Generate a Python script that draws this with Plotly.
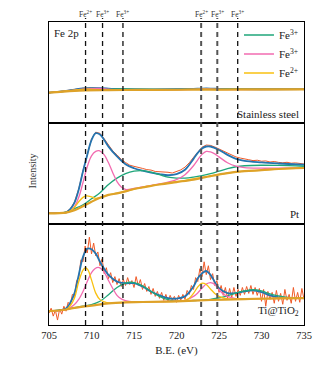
import numpy as np
import plotly.graph_objects as go
from plotly.subplots import make_subplots

# ---------------- data ----------------
# Reference lines (binding energies, eV) and their labels
fe_lines = [709.3, 711.3, 713.7, 722.9, 724.8, 727.2]
fe_labels = ["Fe<sup>2+</sup>", "Fe<sup>3+</sup>", "Fe<sup>3+</sup>",
             "Fe<sup>2+</sup>", "Fe<sup>3+</sup>", "Fe<sup>3+</sup>"]
fe_heavy = [False, False, False, True, True, False]

x_ticks = [705, 710, 715, 720, 725, 730, 735]

# ---- Stainless steel panel (arbitrary intensity units) ----
ss_raw_x = list(range(705, 736))
ss_raw_y = [30.6, 31.6, 32.4, 33.9, 35.2, 35.6, 35.1, 34.9, 34.3, 34.1, 33.9, 34.2, 33.9, 34.1, 34.3,
            34.1, 34.5, 34.9, 35.2, 34.9, 34.5, 34.4, 34.1, 34.3, 34.2, 34.4, 34.1, 34.3, 34.2, 34.4, 34.3]
ss_env_x = [705, 706, 707, 708, 709, 710, 711, 712, 713, 715, 720, 722, 723, 724, 725, 727, 730, 735]
ss_env_y = [30.7, 31.5, 32.5, 33.8, 35, 35.3, 35.3, 34.8, 34.2, 34, 34.2, 34.6, 34.9, 34.9, 34.6, 34.3, 34.2, 34.3]
ss_pink_x = [705, 707, 708, 709, 710, 711, 712, 713, 715, 720, 722, 723.5, 725, 727, 735]
ss_pink_y = [30.7, 32.3, 33.3, 34.2, 34.8, 35, 34.2, 33.6, 33.5, 33.7, 34, 34.5, 34, 33.8, 34]
ss_green_x = [705, 708, 710, 712, 714, 716, 720, 724, 728, 735]
ss_green_y = [30.7, 32.8, 33.8, 34.4, 34.5, 34.2, 34, 34.2, 34.3, 34.3]
ss_yellow_x = [705, 708, 709.3, 710, 712, 715, 720, 722.9, 725, 735]
ss_yellow_y = [30.7, 33.2, 34.3, 34, 33.6, 33.5, 33.7, 34.2, 33.8, 34]
ss_bg_x = [705, 708, 712, 716, 720, 725, 730, 735]
ss_bg_y = [30.7, 32.6, 33.3, 33.5, 33.7, 33.9, 34, 34.1]

# ---- Pt panel ----
pt_raw_x = [705 + 0.5 * i for i in range(61)]
pt_raw_y = [11.2, 10.6, 11.4, 11.0, 12.0, 15.4, 22.3, 35.6, 54.0, 70.8, 86.0, 93.0, 91.8, 86.2, 79.6,
            74.0, 70.0, 65.5, 62.3, 59.6, 58.4, 57.0, 56.3, 55.1, 54.6, 53.2, 53.0, 52.1, 52.4, 51.6,
            53.0, 54.8, 57.6, 62.0, 67.5, 73.2, 77.8, 80.0, 79.6, 78.0, 76.0, 73.8, 71.6, 69.8, 67.9,
            66.8, 65.6, 65.1, 64.2, 64.6, 63.6, 63.9, 62.8, 63.3, 62.4, 62.0, 62.5, 61.6, 61.9, 61.0, 60.8]
pt_env_x = [705, 706, 707, 707.5, 708, 708.5, 709, 709.5, 710, 710.5, 711, 711.5, 712, 713, 714, 715,
            716, 717, 718, 719, 720, 721, 722, 722.5, 723, 723.5, 724, 725, 726, 727, 728, 730, 732, 735]
pt_env_y = [11, 11, 11.7, 15, 21.7, 35, 53.4, 70, 85, 92, 90.7, 85, 78.4, 68.4, 60.5, 56.5,
            54, 52, 50.5, 49.4, 50.5, 55, 66, 72, 76.5, 78.5, 78.5, 75, 70, 66, 64, 62.4, 61.3, 60]
pt_pink_x = [705, 707, 707.5, 708, 708.5, 709, 709.5, 710, 710.5, 710.9, 711.5, 712, 712.5, 713, 713.5,
             714, 715, 716, 718, 719, 720, 721, 722, 722.5, 723, 723.5, 724, 724.5, 725, 726, 727, 728,
             730, 732, 735]
pt_pink_y = [11, 11.6, 13, 17.5, 27, 42, 58, 69, 73.5, 74.2, 70, 62, 52, 43, 37.5,
             35, 36, 37.6, 40.6, 42.5, 45, 50, 59, 65, 70.5, 73.5, 73, 71, 68, 62, 58.5, 57,
             56.5, 56.6, 57]
pt_green_x = [705, 707, 708, 709, 710, 711, 712, 713, 714, 715, 716, 717, 718, 719, 720, 721, 722,
              723, 724, 725, 726, 727, 728, 730, 732, 735]
pt_green_y = [11, 12, 15.5, 19.5, 25.5, 31.7, 40, 46.5, 51, 53.5, 54, 52.5, 50, 47.5, 46.5, 46.5, 47.5,
              49, 51, 53.5, 56, 58, 59, 59.5, 59.3, 58.5]
pt_yellow_x = [705, 707, 707.5, 708, 708.5, 709, 709.4, 710, 710.5, 711, 711.5, 712, 713, 714, 716,
               718, 720, 721, 722, 723, 724, 726, 728, 730, 732, 735]
pt_yellow_y = [10.7, 11.5, 13, 17, 22.5, 27, 28.4, 27.5, 26, 26.8, 28, 29.5, 31.2, 33.2, 37.2,
               40.2, 42.8, 44, 45.8, 47, 48.8, 51.6, 53.5, 54.5, 55.7, 56.7]
pt_bg_x = [705, 707, 708, 709, 710, 711, 712, 713, 714, 715, 716, 718, 720, 722, 724, 726, 728, 730, 732, 735]
pt_bg_y = [10.7, 11.5, 14, 18, 22.5, 26.5, 29.5, 31, 33, 35.5, 37, 40, 42.5, 45, 48.5, 51.5, 53.5, 54.5, 55.7, 56.7]

# ---- Ti@TiO2 panel ----
ti_raw_x = [705 + 0.25 * i for i in range(121)]
ti_raw_y = [12, 17, 9, 15, 5, 16, 11, 19, 14, 23, 20, 31, 29, 45, 48, 66, 64, 80, 73, 89,
            72, 83, 70, 74, 60, 67, 52, 58, 47, 53, 43, 49, 41, 47, 39, 46, 40, 48, 41, 45,
            38, 49, 40, 46, 36, 42, 34, 39, 31, 37, 29, 34, 27, 33, 25, 31, 24, 30, 25, 29,
            23, 30, 25, 31, 26, 35, 31, 40, 36, 48, 44, 57, 49, 64, 51, 60, 46, 52, 40, 45,
            33, 40, 30, 38, 27, 37, 28, 38, 29, 36, 30, 38, 31, 39, 32, 40, 31, 38, 30, 37,
            24, 36, 19, 34, 26, 33, 22, 35, 24, 32, 21, 36, 25, 31, 22, 38, 24, 33, 23, 37, 26]
ti_env_x = [705, 706, 707, 707.5, 708, 708.5, 709, 709.5, 710, 710.5, 711, 712, 713, 714, 715, 716,
            717, 718, 719, 720, 721, 722, 722.5, 723, 723.5, 724, 725, 726, 727, 728, 729, 730, 731,
            732, 735]
ti_env_y = [14, 14.5, 16.7, 22.5, 32.3, 50.7, 69, 77.3, 76.7, 72.3, 64, 50.7, 44, 42.3, 42.3, 39,
            34, 30, 27.3, 26.7, 29, 39, 47.3, 52.3, 54.7, 50.7, 37.3, 32.3, 32.3, 34, 35, 33.3, 30,
            28, 27.3]
ti_yellow_x = [705, 707, 707.5, 708, 708.5, 709, 709.3, 709.6, 710, 710.5, 711, 711.5, 712, 714, 716,
               718, 720, 721, 721.5, 722, 722.5, 723, 723.5, 724, 724.5, 725, 726, 728, 732, 735]
ti_yellow_y = [14, 15.7, 19.5, 27.3, 44, 55.7, 58, 55.5, 45.7, 32.3, 25.7, 23.5, 22.3, 23, 23.3,
               23.6, 24, 25, 27, 32, 38.5, 42.3, 41, 36.5, 32, 29, 26.5, 26.3, 27, 27.3]
ti_pink_x = [705, 707, 708, 708.5, 709, 709.5, 710, 710.4, 710.8, 711.2, 711.6, 712, 712.5, 713, 713.5,
             714, 715, 716, 718, 720, 721, 722, 722.5, 723, 723.5, 724, 724.5, 725, 725.5, 726, 727,
             728, 732, 735]
ti_pink_y = [14, 15.5, 20.7, 26, 34, 44, 53, 57, 58.3, 56.5, 52, 45, 37, 30, 26.5,
             24.7, 23.5, 23.4, 23.7, 24.2, 25, 29, 32.5, 37.3, 41.5, 43, 41, 35.7, 31.5, 29, 26.7,
             26.4, 27, 27.3]
ti_green_x = [705, 707, 708, 709, 710, 711, 712, 713, 714, 714.6, 715, 716, 717, 718, 719, 720, 721,
              722, 724, 725, 726, 727, 728, 729, 730, 731, 732, 733, 735]
ti_green_y = [14, 15.8, 17.5, 19, 20.7, 24, 30.7, 38, 42.3, 43.3, 43, 39.7, 34, 29, 25.7, 24.2, 24.3,
              24.8, 26, 27.5, 29.5, 32.3, 34.5, 35.7, 34.5, 31.5, 29.5, 28, 27.3]
ti_bg_x = [705, 706, 707, 708, 710, 712, 714, 716, 720, 724, 728, 732, 735]
ti_bg_y = [14, 14.7, 15.7, 17.3, 19.7, 22, 23, 23.3, 24, 25.3, 26.3, 27, 27.3]

panels = [
    dict(name="Stainless steel", raw=(ss_raw_x, ss_raw_y), env=(ss_env_x, ss_env_y),
         green=(ss_green_x, ss_green_y), pink=(ss_pink_x, ss_pink_y),
         yellow=(ss_yellow_x, ss_yellow_y), bg=(ss_bg_x, ss_bg_y)),
    dict(name="Pt", raw=(pt_raw_x, pt_raw_y), env=(pt_env_x, pt_env_y),
         green=(pt_green_x, pt_green_y), pink=(pt_pink_x, pt_pink_y),
         yellow=(pt_yellow_x, pt_yellow_y), bg=(pt_bg_x, pt_bg_y)),
    dict(name="Ti@TiO<sub>2</sub>", raw=(ti_raw_x, ti_raw_y), env=(ti_env_x, ti_env_y),
         green=(ti_green_x, ti_green_y), pink=(ti_pink_x, ti_pink_y),
         yellow=(ti_yellow_x, ti_yellow_y), bg=(ti_bg_x, ti_bg_y)),
]

# ---------------- styles ----------------
FONT = "Liberation Serif"
C_RAW = "#f05a28"
C_ENV = "#2474b0"
C_GREEN = "#1fa67a"
C_PINK = "#f26bb0"
C_YELLOW = "#f8c010"
C_BG = "#dea228"

fig = make_subplots(rows=3, cols=1, shared_xaxes=True, vertical_spacing=0)

for i, p in enumerate(panels):
    r = i + 1
    last = (r == 3)
    fig.add_trace(go.Scatter(x=p["raw"][0], y=p["raw"][1], mode="lines",
                             line=dict(color=C_RAW, width=1), showlegend=False), row=r, col=1)
    fig.add_trace(go.Scatter(x=p["env"][0], y=p["env"][1], mode="lines", line_shape="spline",
                             line=dict(color=C_ENV, width=1.8), showlegend=False), row=r, col=1)
    fig.add_trace(go.Scatter(x=p["green"][0], y=p["green"][1], mode="lines", line_shape="spline",
                             line=dict(color=C_GREEN, width=1.3), name="Fe<sup>3+</sup>",
                             showlegend=last, legendrank=1), row=r, col=1)
    fig.add_trace(go.Scatter(x=p["pink"][0], y=p["pink"][1], mode="lines", line_shape="spline",
                             line=dict(color=C_PINK, width=1.3), name="Fe<sup>3+</sup>",
                             showlegend=last, legendrank=2), row=r, col=1)
    fig.add_trace(go.Scatter(x=p["yellow"][0], y=p["yellow"][1], mode="lines", line_shape="spline",
                             line=dict(color=C_YELLOW, width=1.3), name="Fe<sup>2+</sup>",
                             showlegend=last, legendrank=3), row=r, col=1)
    fig.add_trace(go.Scatter(x=p["bg"][0], y=p["bg"][1], mode="lines", line_shape="spline",
                             line=dict(color=C_BG, width=2.2), showlegend=False), row=r, col=1)

    sfx = "" if r == 1 else str(r)
    fig.add_annotation(text=p["name"], xref=f"x{sfx} domain", yref=f"y{sfx} domain",
                       x=0.99, y=[0.01, 0.02, 0.05][i], xanchor="right", yanchor="bottom",
                       showarrow=False, font=dict(family=FONT, size=11, color="#222"))

# dashed reference lines and labels
for xv, lab, heavy in zip(fe_lines, fe_labels, fe_heavy):
    fig.add_shape(type="line", xref="x3", yref="paper", x0=xv, x1=xv, y0=0, y1=1.013,
                  line=dict(color="#555" if heavy else "#111", width=2 if heavy else 1.3,
                            dash="5px,4px"))
    fig.add_annotation(text=lab, xref="x3", yref="paper", x=xv, y=1.027, xanchor="center",
                       yanchor="middle", showarrow=False, font=dict(family=FONT, size=7.5, color="#333"))

fig.add_annotation(text="Fe 2p", xref="x domain", yref="y domain", x=0.012, y=0.89,
                   xanchor="left", yanchor="middle", showarrow=False,
                   font=dict(family=FONT, size=11, color="#222"))
fig.add_annotation(text="Intensity", xref="paper", yref="paper", x=-0.063, y=0.51,
                   xanchor="center", yanchor="middle", textangle=-90, showarrow=False,
                   font=dict(family=FONT, size=10, color="#333"))

axis_common = dict(showline=True, linecolor="black", linewidth=1, mirror=True,
                   showgrid=False, zeroline=False)
for r in (1, 2, 3):
    fig.update_yaxes(range=[0, 102.3], showticklabels=False, ticks="", **axis_common, row=r, col=1)
    fig.update_xaxes(range=[705, 735], ticks="", **axis_common, row=r, col=1)
fig.update_xaxes(showticklabels=False, row=1, col=1)
fig.update_xaxes(showticklabels=False, row=2, col=1)
fig.update_xaxes(tickvals=x_ticks, tickfont=dict(family=FONT, size=10.5, color="#222"),
                 title=dict(text="B.E. (eV)", font=dict(family=FONT, size=11, color="#222"), standoff=6),
                 row=3, col=1)

fig.update_layout(
    width=324, height=366,
    margin=dict(l=49, r=20, t=22, b=37),
    paper_bgcolor="white", plot_bgcolor="white",
    font=dict(family=FONT),
    legend=dict(x=0.745, y=1.005, xanchor="left", yanchor="top", bgcolor="rgba(0,0,0,0)",
                font=dict(family=FONT, size=11, color="#222"), itemwidth=30, tracegroupgap=0),
)

fig.write_html("out.html", config={"displayModeBar": False},
               post_script="document.body.style.margin='0';")
